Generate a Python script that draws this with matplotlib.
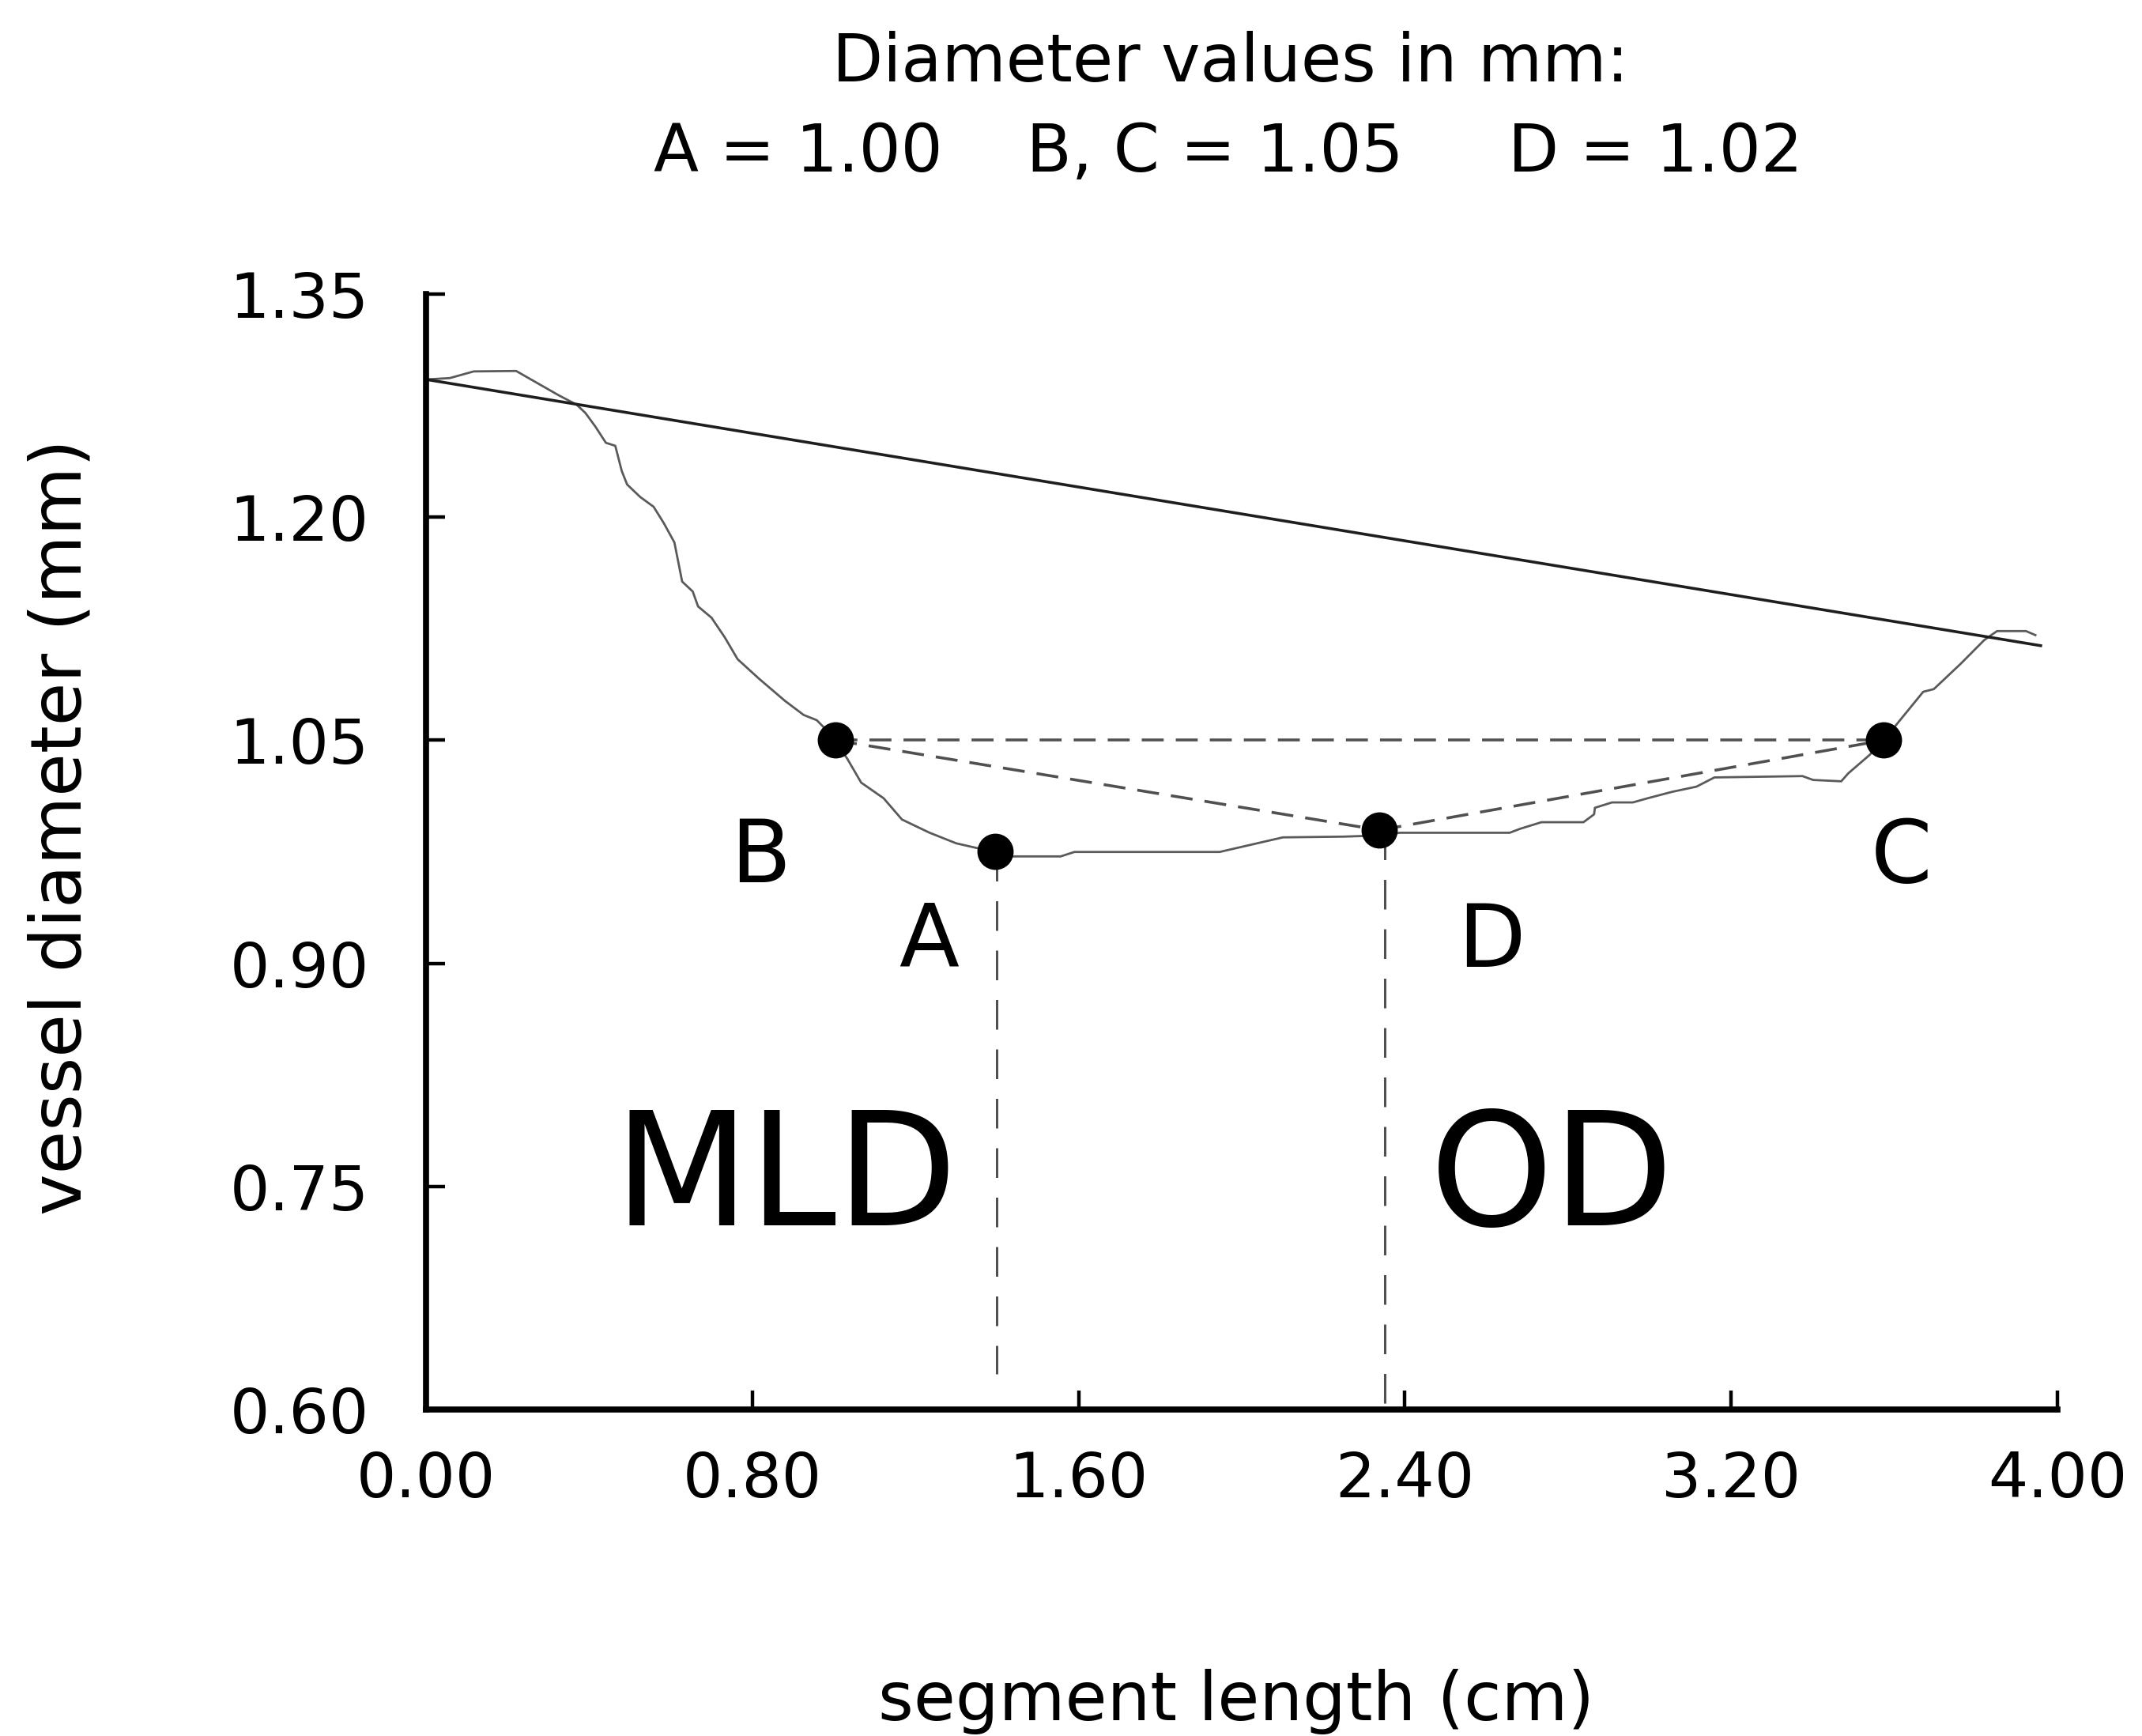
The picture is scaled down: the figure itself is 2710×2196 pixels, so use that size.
import matplotlib
matplotlib.use("Agg")
import matplotlib.pyplot as plt

# ---------------- data ----------------
# measured vessel profile (segment length in cm, diameter in mm)
profile_x = [0.000, 0.058, 0.117, 0.221, 0.325, 0.369, 0.391, 0.415, 0.441, 0.464,
             0.480, 0.493, 0.525, 0.558, 0.583, 0.609, 0.628, 0.654, 0.667, 0.700,
             0.732, 0.764, 0.816, 0.848, 0.880, 0.926, 0.958, 0.985, 1.003, 1.033,
             1.067, 1.122, 1.167, 1.234, 1.300, 1.356, 1.395, 1.434, 1.556, 1.590,
             1.946, 1.968, 2.101, 2.250, 2.338, 2.388, 2.657, 2.683, 2.735, 2.838,
             2.864, 2.866, 2.908, 2.959, 2.994, 3.055, 3.115, 3.159, 3.375, 3.401,
             3.470, 3.487, 3.539, 3.574, 3.613, 3.671, 3.697, 3.762, 3.820, 3.833,
             3.852, 3.923, 3.946]
profile_y = [1.2926, 1.2935, 1.2980, 1.2983, 1.2820, 1.2757, 1.2700, 1.2610, 1.2500, 1.2480,
             1.2310, 1.2220, 1.2136, 1.2070, 1.1960, 1.1830, 1.1567, 1.1500, 1.1400, 1.1324,
             1.1194, 1.1045, 1.0915, 1.0840, 1.0765, 1.0670, 1.0635, 1.0560, 1.0500, 1.0375,
             1.0215, 1.0110, 0.9967, 0.9879, 0.9807, 0.9772, 0.9754, 0.9719, 0.9719, 0.9749,
             0.9749, 0.9763, 0.9847, 0.9852, 0.9860, 0.9878, 0.9878, 0.9905, 0.9949, 0.9949,
             1.0002, 1.0046, 1.0082, 1.0082, 1.0109, 1.0153, 1.0188, 1.0250, 1.0259, 1.0233,
             1.0224, 1.0277, 1.0400, 1.0500, 1.0631, 1.0826, 1.0844, 1.1012, 1.1172, 1.1198,
             1.1234, 1.1234, 1.1207]

# interpolated reference-diameter line
ref_x = [0.000, 3.959]
ref_y = [1.2926, 1.1136]

# marked points
point_labels = ["A", "B", "C", "D"]
point_x = [1.395, 1.003, 3.574, 2.338]
point_y = [0.9754, 1.050, 1.050, 0.9896]

# dashed connections between points (by label)
connections = [("B", "C"), ("B", "D"), ("D", "C")]

# vertical dashed markers under A and D
vline_x = [1.400, 2.350]
vline_top = [0.9754, 0.9896]
vline_bottom = [0.624, 0.600]

# text annotations
letter_text = ["B", "A", "D", "C"]
letter_x = [0.821, 1.233, 2.613, 3.618]
letter_y = [0.971, 0.914, 0.914, 0.971]
region_text = ["MLD", "OD"]
region_x = [0.881, 2.760]
region_y = [0.753, 0.753]

x_ticks = [0.00, 0.80, 1.60, 2.40, 3.20, 4.00]
y_ticks = [0.60, 0.75, 0.90, 1.05, 1.20, 1.35]

title_1 = "Diameter values in mm:"
title_2 = "A = 1.00    B, C = 1.05     D = 1.02"
x_label = "segment length (cm)"
y_label = "vessel diameter (mm)"

# ---------------- figure ----------------
plt.rcParams["font.family"] = ["DejaVu Sans"]
plt.rcParams["lines.scale_dashes"] = False

fig = plt.figure(figsize=(27.10, 21.96), dpi=100)
fig.patch.set_facecolor("white")
ax = fig.add_axes([0.19889, 0.18807, 0.76162, 0.64253])

ax.plot(profile_x, profile_y, color="#5a5a5a", lw=2.0, zorder=2)
ax.plot(ref_x, ref_y, color="#1e1e1e", lw=2.6, zorder=2)

idx = {lab: i for i, lab in enumerate(point_labels)}
for a, b in connections:
    ax.plot([point_x[idx[a]], point_x[idx[b]]], [point_y[idx[a]], point_y[idx[b]]],
            color="#505050", lw=2.6, dashes=(20, 11), zorder=2)

for vx, vt, vb in zip(vline_x, vline_top, vline_bottom):
    ax.plot([vx, vx], [vt, vb], color="#505050", lw=2.2, dashes=(27, 18), zorder=2)

ax.plot(point_x, point_y, "o", color="black", ms=32, zorder=3)

for t, x, y in zip(letter_text, letter_x, letter_y):
    ax.text(x, y, t, fontsize=80, ha="center", va="center", color="black")
for t, x, y in zip(region_text, region_x, region_y):
    ax.text(x, y, t, fontsize=143, ha="center", va="center", color="black")

ax.set_xlim(0.0, 4.0)
ax.set_ylim(0.60, 1.35)
ax.set_xticks(x_ticks)
ax.set_yticks(y_ticks)
ax.set_xticklabels([f"{v:.2f}" for v in x_ticks])
ax.set_yticklabels([f"{v:.2f}" for v in y_ticks])
ax.tick_params(axis="both", direction="in", length=17, width=3.2, labelsize=57,
               colors="black")
ax.tick_params(axis="x", pad=37)
ax.tick_params(axis="y", pad=52)

for side in ["top", "right"]:
    ax.spines[side].set_visible(False)
for side in ["left", "bottom"]:
    ax.spines[side].set_linewidth(5.5)
    ax.spines[side].set_capstyle("projecting")

fig.text(0.5745, 0.9531, title_1, fontsize=60, ha="center", va="baseline")
fig.text(0.5734, 0.9012, title_2, fontsize=60, ha="center", va="baseline")
fig.text(0.5771, 0.020, x_label, fontsize=62, ha="center", va="center")
fig.text(0.0288, 0.5237, y_label, fontsize=64, ha="center", va="center", rotation=90)

fig.savefig("out.png", dpi=100, facecolor="white")
